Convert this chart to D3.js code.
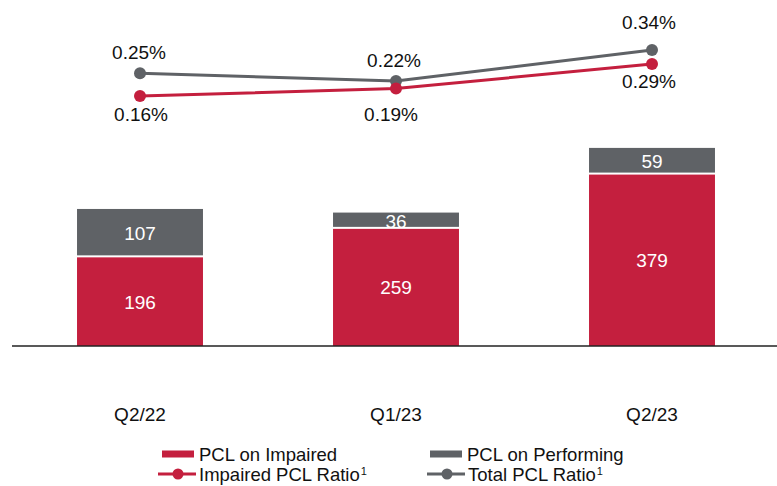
<!DOCTYPE html>
<html>
<head>
<meta charset="utf-8">
<script src="https://cdn.jsdelivr.net/npm/d3@7"></script>
<style>
  body { margin: 0; background: #fff; }
  svg { display: block; font-family: "Liberation Sans", Arial, sans-serif; }
</style>
</head>
<body>
<div id="content"></div>
<script>
// chart data
var quarters = ["Q2/22", "Q1/23", "Q2/23"];
var pclImpaired = [196, 259, 379];
var pclPerforming = [107, 36, 59];
var impairedRatio = [0.16, 0.19, 0.29];
var totalRatio = [0.25, 0.22, 0.34];

let width = 777;
let height = 486;
var red = "#c41f3e";
var grey = "#5f6266";

// label nudges for the ratio labels [dx, dy], like the original slide
var totalLabelPos = [[-1, -14], [-2, -14], [-3, -21]];
var impairedLabelPos = [[1, 25], [-5, 32], [-3, 24]];

var svg = d3.select("#content").append("svg")
    .attr("width", width)
    .attr("height", height);

var x = d3.scaleBand()
    .domain(quarters)
    .range([12, 780])
    .paddingInner(0.508)
    .paddingOuter(0.254);

var y = d3.scaleLinear()
    .domain([0, 440])
    .range([346, 147]);

// the two ratio lines sit on their own scales in the original
var yTotal = d3.scaleLinear().domain([0.22, 0.34]).range([81, 50]);
var yImpaired = d3.scaleLinear().domain([0.16, 0.29]).range([96, 64]);

var rows = quarters.map(function(q, i) {
    return {q: q, imp: pclImpaired[i], perf: pclPerforming[i]};
});

// stacked bars
var bars = svg.append("g");
bars.selectAll("rect.imp")
    .data(rows)
    .enter().append("rect")
    .attr("class", "imp")
    .attr("x", function(d) { return x(d.q); })
    .attr("y", function(d) { return y(d.imp); })
    .attr("width", x.bandwidth())
    .attr("height", function(d) { return y(0) - y(d.imp); })
    .attr("fill", red);

bars.selectAll("rect.perf")
    .data(rows)
    .enter().append("rect")
    .attr("class", "perf")
    .attr("x", function(d) { return x(d.q); })
    .attr("y", function(d) { return y(d.imp + d.perf); })
    .attr("width", x.bandwidth())
    .attr("height", function(d) { return y(d.imp) - y(d.imp + d.perf) - 2; })
    .attr("fill", grey);

bars.selectAll("text.imp")
    .data(rows)
    .enter().append("text")
    .attr("x", function(d) { return x(d.q) + x.bandwidth() / 2; })
    .attr("y", function(d) { return (y(0) + y(d.imp)) / 2; })
    .attr("dy", "0.36em")
    .attr("text-anchor", "middle")
    .attr("fill", "#fff")
    .style("font-size", "19px")
    .text(function(d) { return d.imp; });

bars.selectAll("text.perf")
    .data(rows)
    .enter().append("text")
    .attr("x", function(d) { return x(d.q) + x.bandwidth() / 2; })
    .attr("y", function(d) { return (y(d.imp) + y(d.imp + d.perf)) / 2; })
    .attr("dy", "0.36em")
    .attr("text-anchor", "middle")
    .attr("fill", "#fff")
    .style("font-size", "19px")
    .text(function(d) { return d.perf; });

// baseline
svg.append("line")
    .attr("x1", 12).attr("x2", width)
    .attr("y1", y(0)).attr("y2", y(0))
    .attr("stroke", "#222")
    .attr("stroke-width", 1.5);

// category labels
svg.selectAll("text.cat")
    .data(quarters)
    .enter().append("text")
    .attr("class", "cat")
    .attr("x", function(d) { return x(d) + x.bandwidth() / 2; })
    .attr("y", 421)
    .attr("text-anchor", "middle")
    .attr("fill", "#111")
    .style("font-size", "19px")
    .text(function(d) { return d; });

// ratio lines
function drawRatio(values, scale, color, labelPos) {
    var pts = values.map(function(v, i) {
        return {x: x(quarters[i]) + x.bandwidth() / 2, y: scale(v), v: v, i: i};
    });
    var line = d3.line()
        .x(function(d) { return d.x; })
        .y(function(d) { return d.y; });
    svg.append("path")
        .datum(pts)
        .attr("d", line)
        .attr("fill", "none")
        .attr("stroke", color)
        .attr("stroke-width", 3);
    svg.selectAll(null)
        .data(pts)
        .enter().append("circle")
        .attr("cx", function(d) { return d.x; })
        .attr("cy", function(d) { return d.y; })
        .attr("r", 6)
        .attr("fill", color);
    svg.selectAll(null)
        .data(pts)
        .enter().append("text")
        .attr("x", function(d) { return d.x + labelPos[d.i][0]; })
        .attr("y", function(d) { return d.y + labelPos[d.i][1]; })
        .attr("text-anchor", "middle")
        .attr("fill", "#111")
        .style("font-size", "19px")
        .text(function(d) { return d3.format(".2f")(d.v) + "%"; });
}
drawRatio(totalRatio, yTotal, grey, totalLabelPos);
drawRatio(impairedRatio, yImpaired, red, impairedLabelPos);

// legend
var legend = svg.append("g");
var legendItems = [
    {label: "PCL on Impaired", color: red, kind: "bar", x: 162, y: 454, sup: false},
    {label: "PCL on Performing", color: grey, kind: "bar", x: 430, y: 454, sup: false},
    {label: "Impaired PCL Ratio", color: red, kind: "line", x: 158, y: 474, sup: true},
    {label: "Total PCL Ratio", color: grey, kind: "line", x: 427, y: 474, sup: true}
];
legendItems.forEach(function(d) {
    if (d.kind === "bar") {
        legend.append("rect")
            .attr("x", d.x).attr("y", d.y - 3.5)
            .attr("width", 32).attr("height", 7)
            .attr("fill", d.color);
    } else {
        legend.append("line")
            .attr("x1", d.x).attr("x2", d.x + 38)
            .attr("y1", d.y).attr("y2", d.y)
            .attr("stroke", d.color).attr("stroke-width", 3);
        legend.append("circle")
            .attr("cx", d.x + 20).attr("cy", d.y).attr("r", 5.5)
            .attr("fill", d.color);
    }
    var t = legend.append("text")
        .attr("x", d.kind === "bar" ? d.x + 37 : d.x + 41)
        .attr("y", d.y + 7)
        .attr("fill", "#111")
        .style("font-size", "18.5px")
        .text(d.label);
    if (d.sup) {
        t.append("tspan")
            .attr("dx", 1)
            .attr("dy", -6)
            .style("font-size", "11px")
            .text("1");
    }
});
</script>
</body>
</html>
